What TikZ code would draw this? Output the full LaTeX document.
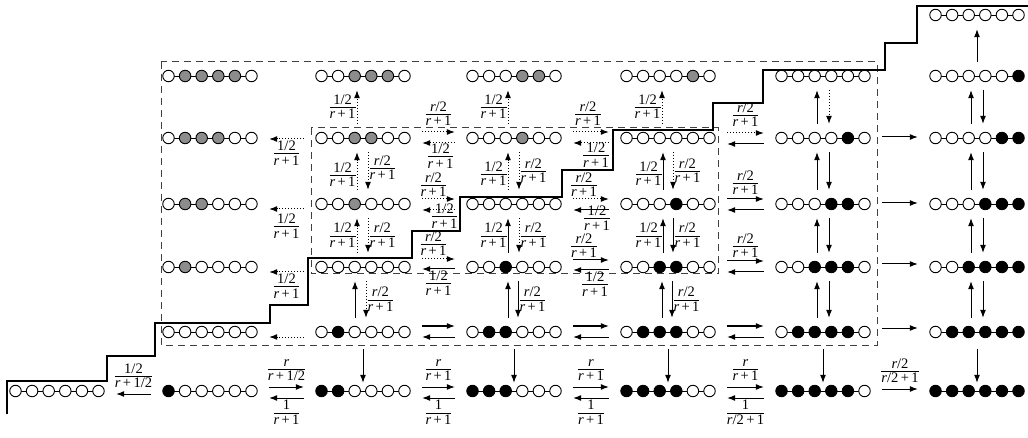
\documentclass[tikz,border=0pt]{standalone}
\usepackage{fontspec}
\setmainfont{Liberation Serif}
\usetikzlibrary{arrows.meta}

\colorlet{siteW}{white}
\colorlet{siteG}{black!45}
\colorlet{siteB}{black}

\newcommand{\rr}{\textit{r}}
\newcommand{\fr}[2]{\raisebox{0pt}[\dimexpr\height-1pt\relax][\dimexpr\depth-4pt\relax]{%
  \begin{tabular}{@{}c@{}}#1\\[-2pt]\hline #2\end{tabular}}}
%% one state: six sites on a line
\newcommand{\chain}[3]{%
  \node[chainbox] (#1) at (#2) {};
  \draw[link] ([xshift=-41.5pt]#1.center) -- ([xshift=41.5pt]#1.center);
  \foreach \c [count=\i] in {#3}
    \node[site, fill=site\c] (#1-\i) at ([xshift={(\i-3.5)*16.6pt}]#1.center) {};
}

\tikzset{
  chainbox/.style={rectangle, minimum width=96pt, minimum height=12pt, inner sep=0pt},
  site/.style={circle, draw, line width=0.9pt, minimum size=11.5pt, inner sep=0pt},
  link/.style={line width=0.9pt},
  move/.style={-{Latex[length=8pt,width=6pt]}, line width=1pt},
  dmove/.style={move, dash pattern=on 1.2pt off 1.8pt},
  hmove/.style={shorten <=11pt, shorten >=11pt},
  vmove/.style={shorten <=8pt, shorten >=8pt},
  lab/.style={font=\fontsize{14.5}{16}\selectfont, inner sep=1pt},
  region/.style={line width=1pt, black!75, dash pattern=on 7pt off 5pt},
  stair/.style={line width=1.2pt}
}

\begin{document}
\begin{tikzpicture}[x=1pt,y=-1pt]
  \useasboundingbox (0,0) rectangle (1028,438);
  \pgfmathsetmacro{\xA}{57}
  \pgfmathsetmacro{\xB}{210}
  \pgfmathsetmacro{\xC}{363}
  \pgfmathsetmacro{\xD}{514}
  \pgfmathsetmacro{\xE}{668}
  \pgfmathsetmacro{\xF}{823}
  \pgfmathsetmacro{\xG}{977}
  \pgfmathsetmacro{\yT}{15}
  \pgfmathsetmacro{\yA}{76}
  \pgfmathsetmacro{\yB}{138}
  \pgfmathsetmacro{\yC}{204}
  \pgfmathsetmacro{\yD}{267}
  \pgfmathsetmacro{\yE}{332}
  \pgfmathsetmacro{\yF}{391}
  %% Dashed regions
  \draw[region] (161,62) rectangle (877,345);
  \draw[region] (311,128) rectangle (718,274);
  %% Boundary staircase
  \draw[stair] (7,414) -- (7,381) -- (107,381) -- (107,356) -- (155,356) -- (155,323)
    -- (270,323) -- (270,305) -- (308,305) -- (308,258) -- (412,258) -- (412,231)
    -- (460,231) -- (460,197) -- (562,197) -- (562,170) -- (613,170) -- (613,130)
    -- (713,130) -- (713,103) -- (763,103) -- (763,70) -- (885,70) -- (885,43)
    -- (917,43) -- (917,6) -- (1028,6);
  %% States
  \chain{s06}{\xA,\yF}{W,W,W,W,W,W}
  \chain{s11}{\xB,\yA}{W,G,G,G,G,W}
  \chain{s12}{\xB,\yB}{W,G,G,G,W,W}
  \chain{s13}{\xB,\yC}{W,G,G,W,W,W}
  \chain{s14}{\xB,\yD}{W,G,W,W,W,W}
  \chain{s15}{\xB,\yE}{W,W,W,W,W,W}
  \chain{s16}{\xB,\yF}{B,W,W,W,W,W}
  \chain{s21}{\xC,\yA}{W,W,G,G,G,W}
  \chain{s22}{\xC,\yB}{W,W,G,G,W,W}
  \chain{s23}{\xC,\yC}{W,W,G,W,W,W}
  \chain{s24}{\xC,\yD}{W,W,W,W,W,W}
  \chain{s25}{\xC,\yE}{W,B,W,W,W,W}
  \chain{s26}{\xC,\yF}{B,B,W,W,W,W}
  \chain{s31}{\xD,\yA}{W,W,W,G,G,W}
  \chain{s32}{\xD,\yB}{W,W,W,G,W,W}
  \chain{s33}{\xD,\yC}{W,W,W,W,W,W}
  \chain{s34}{\xD,\yD}{W,W,B,W,W,W}
  \chain{s35}{\xD,\yE}{W,B,B,W,W,W}
  \chain{s36}{\xD,\yF}{B,B,B,W,W,W}
  \chain{s41}{\xE,\yA}{W,W,W,W,G,W}
  \chain{s42}{\xE,\yB}{W,W,W,W,W,W}
  \chain{s43}{\xE,\yC}{W,W,W,B,W,W}
  \chain{s44}{\xE,\yD}{W,W,B,B,W,W}
  \chain{s45}{\xE,\yE}{W,B,B,B,W,W}
  \chain{s46}{\xE,\yF}{B,B,B,B,W,W}
  \chain{s51}{\xF,\yA}{W,W,W,W,W,W}
  \chain{s52}{\xF,\yB}{W,W,W,W,B,W}
  \chain{s53}{\xF,\yC}{W,W,W,B,B,W}
  \chain{s54}{\xF,\yD}{W,W,B,B,B,W}
  \chain{s55}{\xF,\yE}{W,B,B,B,B,W}
  \chain{s56}{\xF,\yF}{B,B,B,B,B,W}
  \chain{s60}{\xG,\yT}{W,W,W,W,W,W}
  \chain{s61}{\xG,\yA}{W,W,W,W,W,B}
  \chain{s62}{\xG,\yB}{W,W,W,W,B,B}
  \chain{s63}{\xG,\yC}{W,W,W,B,B,B}
  \chain{s64}{\xG,\yD}{W,W,B,B,B,B}
  \chain{s65}{\xG,\yE}{W,B,B,B,B,B}
  \chain{s66}{\xG,\yF}{B,B,B,B,B,B}
  %% Bottom row
  \draw[move,hmove] ([yshift=-3pt]s16.west) -- node[lab,above=4pt]{\fr{1/2}{\rr\,+\,1/2}} ([yshift=-3pt]s06.east);
  \draw[move,hmove] ([yshift=4pt]s16.east) -- node[lab,above=4pt]{\fr{\rr}{\rr\,+\,1/2}} ([yshift=4pt]s26.west);
  \draw[move,hmove] ([yshift=-7pt]s26.west) -- node[lab,below]{\fr{1}{\rr\,+\,1}} ([yshift=-7pt]s16.east);
  \draw[move,hmove] ([yshift=4pt]s26.east) -- node[lab,above=4pt]{\fr{\rr}{\rr\,+\,1}} ([yshift=4pt]s36.west);
  \draw[move,hmove] ([yshift=-7pt]s36.west) -- node[lab,below]{\fr{1}{\rr\,+\,1}} ([yshift=-7pt]s26.east);
  \draw[move,hmove] ([yshift=4pt]s36.east) -- node[lab,above=4pt]{\fr{\rr}{\rr\,+\,1}} ([yshift=4pt]s46.west);
  \draw[move,hmove] ([yshift=-7pt]s46.west) -- node[lab,below]{\fr{1}{\rr\,+\,1}} ([yshift=-7pt]s36.east);
  \draw[move,hmove] ([yshift=4pt]s46.east) -- node[lab,above=4pt]{\fr{\rr}{\rr\,+\,1}} ([yshift=4pt]s56.west);
  \draw[move,hmove] ([yshift=-7pt]s56.west) -- node[lab,below]{\fr{1}{\rr/2\,+\,1}} ([yshift=-7pt]s46.east);
  \draw[move,hmove] ([yshift=2pt]s56.east) -- node[lab,above=4pt]{\fr{\rr/2}{\rr/2\,+\,1}} ([yshift=2pt]s66.west);
  %% Row 5
  \draw[dmove,hmove] ([yshift=-5pt]s25.west) -- ([yshift=-5pt]s15.east);
  \foreach \a/\b in {s25/s35, s35/s45, s45/s55} {
    \draw[move,hmove] ([yshift=6pt]\a.east) -- ([yshift=6pt]\b.west);
    \draw[move,hmove] ([yshift=-5pt]\b.west) -- ([yshift=-5pt]\a.east);
  }
  \draw[move,hmove] ([yshift=4pt]s55.east) -- ([yshift=4pt]s65.west);
  %% Row 4
  \draw[dmove,hmove] ([yshift=-5pt]s24.west) -- node[lab,below]{\fr{1/2}{\rr\,+\,1}} ([yshift=-5pt]s14.east);
  \draw[dmove,hmove] ([yshift=8pt]s24.east) -- node[lab,above=1pt,xshift=-5pt]{\fr{\rr/2}{\rr\,+\,1}} ([yshift=8pt]s34.west);
  \draw[move,hmove] ([yshift=-2pt]s34.west) -- node[lab,below]{\fr{1/2}{\rr\,+\,1}} ([yshift=-2pt]s24.east);
  \draw[move,hmove] ([yshift=7pt]s34.east) -- node[lab,above=0pt,xshift=-7pt]{\fr{\rr/2}{\rr\,+\,1}} ([yshift=7pt]s44.west);
  \draw[move,hmove] ([yshift=-3pt]s44.west) -- node[lab,below,xshift=4pt]{\fr{1/2}{\rr\,+\,1}} ([yshift=-3pt]s34.east);
  \draw[move,hmove] ([yshift=6pt]s44.east) -- node[lab,above=1pt]{\fr{\rr/2}{\rr\,+\,1}} ([yshift=6pt]s54.west);
  \draw[move,hmove] ([yshift=-5pt]s54.west) -- ([yshift=-5pt]s44.east);
  \draw[move,hmove] ([yshift=3pt]s54.east) -- ([yshift=3pt]s64.west);
  %% Row 3
  \draw[dmove,hmove] ([yshift=-5pt]s23.west) -- node[lab,below=3pt]{\fr{1/2}{\rr\,+\,1}} ([yshift=-5pt]s13.east);
  \draw[dmove,hmove] ([yshift=5pt]s23.east) -- node[lab,above=0pt,xshift=-5pt]{\fr{\rr/2}{\rr\,+\,1}} ([yshift=5pt]s33.west);
  \draw[dmove,hmove] ([yshift=-6pt]s33.west) -- node[lab,below=-8pt,xshift=6pt]{\fr{1/2}{\rr\,+\,1}} ([yshift=-6pt]s23.east);
  \draw[dmove,hmove] ([yshift=5pt]s33.east) -- node[lab,above=0pt,xshift=-7pt]{\fr{\rr/2}{\rr\,+\,1}} ([yshift=5pt]s43.west);
  \draw[move,hmove] ([yshift=-6pt]s43.west) -- node[lab,below=-6pt,xshift=6pt]{\fr{1/2}{\rr\,+\,1}} ([yshift=-6pt]s33.east);
  \draw[move,hmove] ([yshift=5pt]s43.east) -- node[lab,above=2pt]{\fr{\rr/2}{\rr\,+\,1}} ([yshift=5pt]s53.west);
  \draw[move,hmove] ([yshift=-6pt]s53.west) -- ([yshift=-6pt]s43.east);
  \draw[move,hmove] ([yshift=1pt]s53.east) -- ([yshift=1pt]s63.west);
  %% Row 2
  \draw[dmove,hmove] ([yshift=-1pt]s22.west) -- node[lab,below]{\fr{1/2}{\rr\,+\,1}} ([yshift=-1pt]s12.east);
  \draw[dmove,hmove] ([yshift=6pt]s22.east) -- node[lab,above=4pt]{\fr{\rr/2}{\rr\,+\,1}} ([yshift=6pt]s32.west);
  \draw[dmove,hmove] ([yshift=-5pt]s32.west) -- node[lab,below=-1pt,xshift=2pt]{\fr{1/2}{\rr\,+\,1}} ([yshift=-5pt]s22.east);
  \draw[dmove,hmove] ([yshift=6pt]s32.east) -- node[lab,above=4pt,xshift=-3pt]{\fr{\rr/2}{\rr\,+\,1}} ([yshift=6pt]s42.west);
  \draw[dmove,hmove] ([yshift=-5pt]s42.west) -- node[lab,below=-2pt,xshift=5pt]{\fr{1/2}{\rr\,+\,1}} ([yshift=-5pt]s32.east);
  \draw[dmove,hmove] ([yshift=5pt]s42.east) -- node[lab,above=4pt]{\fr{\rr/2}{\rr\,+\,1}} ([yshift=5pt]s52.west);
  \draw[move,hmove] ([yshift=-6pt]s52.west) -- ([yshift=-6pt]s42.east);
  \draw[move,hmove] ([yshift=1pt]s52.east) -- ([yshift=1pt]s62.west);
  %% Vertical moves
  \foreach \c in {2,3,4}
    \draw[dmove,vmove] ([xshift=-6pt]s\c2.north) -- node[lab,left]{\fr{1/2}{\rr\,+\,1}} ([xshift=-6pt]s\c1.south);
  \draw[dmove,vmove] ([xshift=-6pt]s23.north) -- node[lab,left,yshift=-4pt]{\fr{1/2}{\rr\,+\,1}} ([xshift=-6pt]s22.south);
  \draw[dmove,vmove] ([xshift=5pt]s22.south) -- node[lab,right,yshift=3pt]{\fr{\rr/2}{\rr\,+\,1}} ([xshift=5pt]s23.north);
  \draw[dmove,vmove] ([xshift=-6pt]s33.north) -- node[lab,left,yshift=-3pt]{\fr{1/2}{\rr\,+\,1}} ([xshift=-6pt]s32.south);
  \draw[dmove,vmove] ([xshift=5pt]s32.south) -- node[lab,right]{\fr{\rr/2}{\rr\,+\,1}} ([xshift=5pt]s33.north);
  \draw[move,vmove] ([xshift=-5pt]s43.north) -- node[lab,left,yshift=-3pt]{\fr{1/2}{\rr\,+\,1}} ([xshift=-5pt]s42.south);
  \draw[dmove,vmove] ([xshift=5pt]s42.south) -- node[lab,right]{\fr{\rr/2}{\rr\,+\,1}} ([xshift=5pt]s43.north);
  \draw[dmove,vmove] ([xshift=-6pt]s24.north) -- node[lab,left]{\fr{1/2}{\rr\,+\,1}} ([xshift=-6pt]s23.south);
  \draw[dmove,vmove] ([xshift=5pt]s23.south) -- node[lab,right]{\fr{\rr/2}{\rr\,+\,1}} ([xshift=5pt]s24.north);
  \draw[move,vmove] ([xshift=-6pt]s34.north) -- node[lab,left]{\fr{1/2}{\rr\,+\,1}} ([xshift=-6pt]s33.south);
  \draw[dmove,vmove] ([xshift=5pt]s33.south) -- node[lab,right]{\fr{\rr/2}{\rr\,+\,1}} ([xshift=5pt]s34.north);
  \draw[move,vmove] ([xshift=-5pt]s44.north) -- node[lab,left]{\fr{1/2}{\rr\,+\,1}} ([xshift=-5pt]s43.south);
  \draw[move,vmove] ([xshift=5pt]s43.south) -- node[lab,right]{\fr{\rr/2}{\rr\,+\,1}} ([xshift=5pt]s44.north);
  \draw[move,vmove] ([xshift=-8pt]s25.north) -- ([xshift=-8pt]s24.south);
  \draw[dmove,vmove] ([xshift=3pt]s24.south) -- node[lab,right]{\fr{\rr/2}{\rr\,+\,1}} ([xshift=3pt]s25.north);
  \foreach \c in {3,4} {
    \draw[move,vmove] ([xshift=-6pt]s\c5.north) -- ([xshift=-6pt]s\c4.south);
    \draw[move,vmove] ([xshift=4pt]s\c4.south) -- node[lab,right]{\fr{\rr/2}{\rr\,+\,1}} ([xshift=4pt]s\c5.north);
  }
  \draw[move,vmove] ([xshift=-6pt]s52.north) -- ([xshift=-6pt]s51.south);
  \draw[dmove,vmove] ([xshift=6pt]s51.south) -- ([xshift=6pt]s52.north);
  \draw[move,vmove] ([xshift=-6pt]s62.north) -- ([xshift=-6pt]s61.south);
  \draw[move,vmove] ([xshift=6pt]s61.south) -- ([xshift=6pt]s62.north);
  \foreach \c in {5,6}
    \foreach \r/\s in {2/3, 3/4, 4/5} {
      \draw[move,vmove] ([xshift=-6pt]s\c\s.north) -- ([xshift=-6pt]s\c\r.south);
      \draw[move,vmove] ([xshift=6pt]s\c\r.south) -- ([xshift=6pt]s\c\s.north);
    }
  \draw[move,vmove] (s61.north) -- (s60.south);
  \foreach \c in {2,...,6}
    \draw[move,shorten <=11pt,shorten >=2pt] (s\c5.south) -- (s\c6.north);
\end{tikzpicture}
\end{document}
